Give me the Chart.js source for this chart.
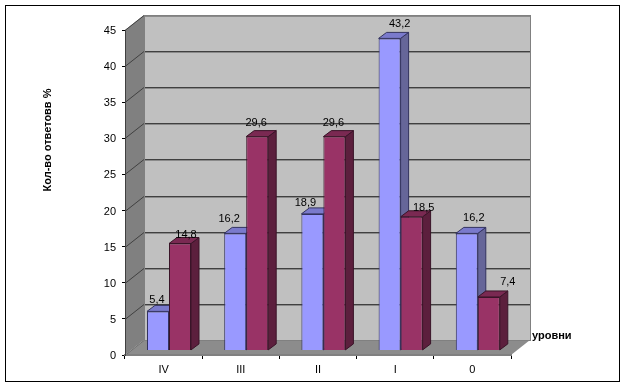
<!DOCTYPE html>
<html lang="ru">
<head>
  <meta charset="UTF-8" />
  <title>Кол-во ответов по уровням</title>
  <style>
    html, body { margin: 0; padding: 0; background: #fff; }
    #frame { position: absolute; left: 5px; top: 5px; width: 613px; height: 375px; border: 1px solid #000; }
    #chart { position: absolute; left: 0; top: 0; }
  </style>
</head>
<body>
<div id="frame"></div>
<canvas id="chart" width="626" height="388"></canvas>

<script src="https://cdn.jsdelivr.net/npm/chart.js"></script>
<script>
  const categories = ['IV', 'III', 'II', 'I', '0'];
  const seriesA = [5.4, 16.2, 18.9, 43.2, 16.2];
  const seriesB = [14.8, 29.6, 29.6, 18.5, 7.4];
  const yTicks = [0, 5, 10, 15, 20, 25, 30, 35, 40, 45];

  const FONT = '"Liberation Sans", Arial, sans-serif';

  // excel style fake 3D
  const wallDx = 19, wallDy = 15;    // back wall offset
  const barDx = 5.4, barDy = 4.6;    // bars stand a bit inside the floor
  const sideDx = 8, sideDy = 6;      // bar depth

  const shades = [
    { top: '#7a7acc', side: '#666699', edge: '#33335f' },
    { top: '#7a2952', side: '#5c1f3d', edge: '#3a1428' }
  ];

  // label nudges from bar centre, hand placed like in the original
  const labelNudge = [
    [[-1, -11], [-6, -14], [-7, -11], [10, -14], [7, -15]],
    [[6, -9], [-1, -14], [-1, -14], [12, -9], [19, -15]]
  ];

  const fake3d = {
    id: 'fake3d',
    beforeDraw(chart) {
      const { ctx, scales: { x, y } } = chart;
      const l = x.left, r = x.right, t = y.top, b = y.bottom;
      ctx.save();
      // back wall
      ctx.fillStyle = '#c0c0c0';
      ctx.fillRect(l + wallDx, t - wallDy, r - l, b - t);
      // side wall
      ctx.fillStyle = '#808080';
      ctx.beginPath();
      ctx.moveTo(l, t);
      ctx.lineTo(l + wallDx, t - wallDy);
      ctx.lineTo(l + wallDx, b - wallDy);
      ctx.lineTo(l, b);
      ctx.closePath();
      ctx.fill();
      // floor
      ctx.fillStyle = '#8c8c8c';
      ctx.beginPath();
      ctx.moveTo(l, b);
      ctx.lineTo(l + wallDx, b - wallDy);
      ctx.lineTo(r + wallDx, b - wallDy);
      ctx.lineTo(r, b);
      ctx.closePath();
      ctx.fill();
      // gridlines
      yTicks.forEach(v => {
        const py = Math.round(y.getPixelForValue(v)) + 0.5;
        ctx.strokeStyle = v === 0 ? '#707070' : '#404040';
        ctx.lineWidth = 1;
        ctx.beginPath();
        ctx.moveTo(l, py);
        ctx.lineTo(l + wallDx, py - wallDy);
        ctx.lineTo(r + wallDx, py - wallDy);
        ctx.stroke();
        if (v > 0) {
          ctx.strokeStyle = '#8a8a8a';
          ctx.beginPath();
          ctx.moveTo(l + wallDx, py - wallDy + 1);
          ctx.lineTo(r + wallDx, py - wallDy + 1);
          ctx.stroke();
        }
      });
      // wall edges
      ctx.strokeStyle = '#808080';
      ctx.lineWidth = 1;
      ctx.strokeRect(l + wallDx + 0.5, t - wallDy + 0.5, r - l, b - t);
      ctx.restore();
    },
    // sides and tops go first so the fronts of the next bar cover them
    beforeDatasetsDraw(chart) {
      const { ctx } = chart;
      ctx.save();
      ctx.translate(barDx, -barDy);
      ctx.lineWidth = 1;
      chart.data.datasets.forEach((ds, i) => {
        const shade = shades[i];
        ctx.strokeStyle = shade.edge;
        chart.getDatasetMeta(i).data.forEach(bar => {
          const left = bar.x - bar.width / 2, right = bar.x + bar.width / 2;
          ctx.fillStyle = shade.side;
          ctx.beginPath();
          ctx.moveTo(right, bar.y);
          ctx.lineTo(right + sideDx, bar.y - sideDy);
          ctx.lineTo(right + sideDx, bar.base - sideDy);
          ctx.lineTo(right, bar.base);
          ctx.closePath();
          ctx.fill();
          ctx.stroke();
          ctx.fillStyle = shade.top;
          ctx.beginPath();
          ctx.moveTo(left, bar.y);
          ctx.lineTo(left + sideDx, bar.y - sideDy);
          ctx.lineTo(right + sideDx, bar.y - sideDy);
          ctx.lineTo(right, bar.y);
          ctx.closePath();
          ctx.fill();
          ctx.stroke();
        });
      });
      ctx.restore();
    },
    beforeDatasetDraw(chart) {
      chart.ctx.save();
      chart.ctx.translate(barDx, -barDy);
    },
    afterDatasetDraw(chart) {
      chart.ctx.restore();
    },
    afterDatasetsDraw(chart) {
      const { ctx } = chart;
      ctx.save();
      ctx.fillStyle = '#000';
      ctx.font = '11px ' + FONT;
      ctx.textAlign = 'center';
      ctx.textBaseline = 'middle';
      chart.data.datasets.forEach((ds, i) => {
        chart.getDatasetMeta(i).data.forEach((bar, j) => {
          const [nx, ny] = labelNudge[i][j];
          ctx.fillText(String(ds.data[j]).replace('.', ','), bar.x + barDx + nx, bar.y - barDy + ny);
        });
      });
      // axis titles
      ctx.font = 'bold 11px ' + FONT;
      ctx.textAlign = 'left';
      ctx.fillText('уровни', 532, 336);
      ctx.translate(48, 140);
      ctx.rotate(-Math.PI / 2);
      ctx.textAlign = 'center';
      ctx.fillText('Кол-во ответовв %', 0, 0);
      ctx.restore();
    }
  };

  new Chart(document.getElementById('chart'), {
    type: 'bar',
    data: {
      labels: categories,
      datasets: [
        { label: 'A', data: seriesA, backgroundColor: '#9999ff', borderColor: shades[0].edge, borderWidth: 1, clip: false },
        { label: 'B', data: seriesB, backgroundColor: '#993366', borderColor: shades[1].edge, borderWidth: 1, clip: false }
      ]
    },
    options: {
      responsive: false,
      animation: false,
      layout: { padding: { top: 30, right: 115, left: 0, bottom: 0 } },
      datasets: { bar: { categoryPercentage: 0.57, barPercentage: 1 } },
      plugins: { legend: { display: false }, tooltip: { enabled: false } },
      scales: {
        x: {
          afterFit: s => { s.height = 33; },
          border: { color: '#808080', width: 2 },
          grid: { drawOnChartArea: false, color: '#000', tickLength: 4 },
          ticks: { color: '#000', font: { family: FONT, size: 11 }, padding: 4, maxRotation: 0 }
        },
        y: {
          min: 0,
          max: 45,
          afterFit: s => { s.width = 125; },
          afterBuildTicks: s => { s.ticks = yTicks.map(v => ({ value: v })); },
          border: { color: '#404040', width: 1 },
          grid: { drawOnChartArea: false, color: '#000', tickLength: 3 },
          ticks: { color: '#000', font: { family: FONT, size: 11 }, padding: 6, labelOffset: 1 }
        }
      }
    },
    plugins: [fake3d]
  });
</script>
</body>
</html>
